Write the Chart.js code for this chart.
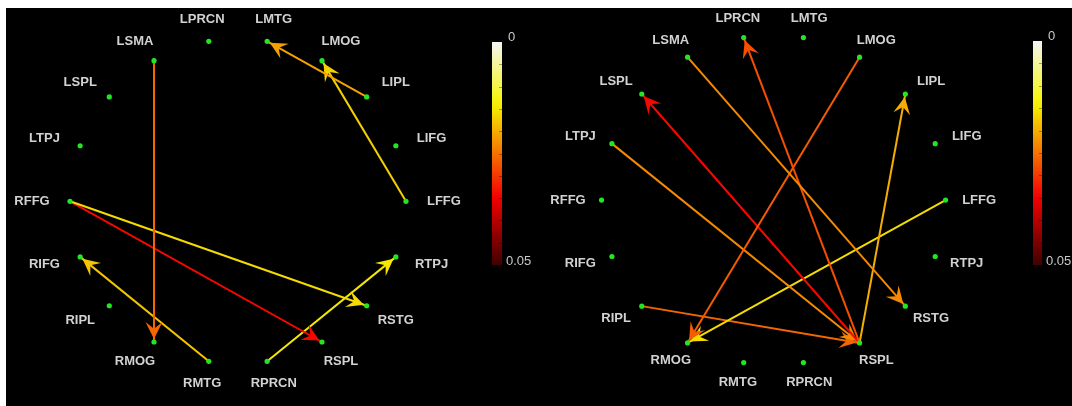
<!DOCTYPE html>
<html>
<head>
<meta charset="utf-8">
<script src="https://cdn.jsdelivr.net/npm/chart.js@4/dist/chart.umd.min.js"></script>
<style>
  html, body { margin: 0; padding: 0; background: #fff; }
  #stage { position: absolute; left: 6px; top: 8px; width: 1066px; height: 398px; background: #000; overflow: hidden; }
  canvas { position: absolute; top: 0; }
  #left { left: 0; }
  #right { left: 530px; }
</style>
</head>
<body>
<div id="stage">
  <canvas id="left" width="530" height="398"></canvas>
  <canvas id="right" width="536" height="398"></canvas>
</div>
<script>
// regions around the circle, counter-clockwise from the right
const regions = ['LFFG', 'LIFG', 'LIPL', 'LMOG', 'LMTG', 'LPRCN', 'LSMA', 'LSPL', 'LTPJ',
                 'RFFG', 'RIFG', 'RIPL', 'RMOG', 'RMTG', 'RPRCN', 'RSPL', 'RSTG', 'RTPJ'];

// left panel connections (source -> target) and p values
const leftFrom = ['LSMA', 'LIPL', 'LFFG', 'RFFG', 'RFFG', 'RMTG', 'RPRCN'];
const leftTo   = ['RMOG', 'LMTG', 'LMOG', 'RSTG', 'RSPL', 'RIFG', 'RTPJ'];
const leftP    = [0.026, 0.021, 0.017, 0.016, 0.034, 0.018, 0.015];

// right panel connections
const rightFrom = ['LSMA', 'RSPL', 'LMOG', 'RSPL', 'RSPL', 'LTPJ', 'LFFG', 'RIPL'];
const rightTo   = ['RSTG', 'LPRCN', 'RMOG', 'LSPL', 'LIPL', 'RSPL', 'RMOG', 'RSPL'];
const rightP    = [0.023, 0.028, 0.027, 0.034, 0.020, 0.023, 0.016, 0.026];

const cbarTicks = ['0', '0.05'];
const pMax = 0.05;

function angleOf(name) {
  return regions.indexOf(name) * 2 * Math.PI / regions.length;
}

function nodeXY(name) {
  const a = angleOf(name);
  return { x: Math.cos(a), y: Math.sin(a) };
}

// reversed "hot" colour map, 0 = white, pMax = dark red
function hot(p) {
  const s = 1 - 0.9 * Math.min(1, p / pMax);
  const c = v => Math.round(255 * 0.96 * Math.max(0, Math.min(1, v)));
  return 'rgb(' + c(s / 0.375) + ',' + c((s - 0.375) / 0.375) + ',' + c((s - 0.75) / 0.25) + ')';
}

const arrowPlugin = {
  id: 'arrows',
  afterDatasetDraw(chart, args) {
    const ds = chart.data.datasets[args.index];
    if (!ds.edge) return;
    const a = args.meta.data[0], b = args.meta.data[1];
    let dx = b.x - a.x, dy = b.y - a.y;
    const len = Math.hypot(dx, dy);
    dx /= len; dy /= len;
    const nx = -dy, ny = dx;
    const L = 17, W = 8.5;
    const tx = b.x - dx * 3, ty = b.y - dy * 3;
    const ctx = chart.ctx;
    ctx.save();
    ctx.fillStyle = ds.borderColor;
    ctx.beginPath();
    ctx.moveTo(tx, ty);
    ctx.lineTo(tx - dx * L + nx * W, ty - dy * L + ny * W);
    ctx.lineTo(tx - dx * L * 0.6, ty - dy * L * 0.6);
    ctx.lineTo(tx - dx * L - nx * W, ty - dy * L - ny * W);
    ctx.closePath();
    ctx.fill();
    ctx.restore();
  }
};

const panelPlugin = {
  id: 'panel',
  afterDraw(chart, args, opts) {
    const ctx = chart.ctx;
    const sx = chart.scales.x, sy = chart.scales.y;
    ctx.save();
    // region names
    ctx.font = 'bold 13px "Liberation Sans", Arial, sans-serif';
    ctx.fillStyle = '#d2d2d2';
    ctx.textAlign = 'center';
    ctx.textBaseline = 'middle';
    regions.forEach(name => {
      const a = angleOf(name);
      ctx.fillText(name, sx.getPixelForValue(opts.labelRx * Math.cos(a)),
                         sy.getPixelForValue(opts.labelRy * Math.sin(a)));
    });
    // colour bar
    const cb = opts.cbar;
    const grad = ctx.createLinearGradient(0, cb.top, 0, cb.bottom);
    for (let i = 0; i <= 20; i++) grad.addColorStop(i / 20, hot(pMax * i / 20));
    ctx.fillStyle = grad;
    ctx.fillRect(cb.x, cb.top, cb.w, cb.bottom - cb.top);
    ctx.strokeStyle = 'rgba(0,0,0,0.35)';
    ctx.lineWidth = 1;
    for (let i = 1; i < 10; i++) {
      const y = Math.round(cb.top + (cb.bottom - cb.top) * i / 10) + 0.5;
      ctx.beginPath();
      ctx.moveTo(cb.x + cb.w - 3, y);
      ctx.lineTo(cb.x + cb.w, y);
      ctx.stroke();
    }
    ctx.font = '13px "Liberation Sans", Arial, sans-serif';
    ctx.fillStyle = '#c8c8c8';
    ctx.textAlign = 'left';
    ctx.fillText(cbarTicks[0], cb.x + cb.w + 6, cb.top - 5);
    ctx.fillText(cbarTicks[1], cb.x + cb.w + 4, cb.bottom - 4);
    ctx.restore();
  }
};

function makePanel(id, from, to, pvals, geo) {
  const datasets = from.map((f, i) => ({
    data: [nodeXY(f), nodeXY(to[i])],
    showLine: true,
    borderColor: hot(pvals[i]),
    borderWidth: 2,
    pointRadius: 0,
    edge: true,
    order: 1
  }));
  datasets.push({
    data: regions.map(nodeXY),
    pointRadius: 2.6,
    pointBackgroundColor: '#22e622',
    pointBorderWidth: 0,
    order: 0
  });
  return new Chart(id, {
    type: 'scatter',
    data: { datasets },
    options: {
      responsive: false,
      animation: false,
      layout: { padding: 0, autoPadding: false },
      scales: {
        x: { display: false, min: geo.xMin, max: geo.xMax },
        y: { display: false, min: geo.yMin, max: geo.yMax }
      },
      plugins: {
        legend: { display: false },
        tooltip: { enabled: false },
        panel: geo
      }
    },
    plugins: [arrowPlugin, panelPlugin]
  });
}

makePanel('left', leftFrom, leftTo, leftP, {
  xMin: -1.381, xMax: 1.774, yMin: -1.26, yMax: 1.19,
  labelRx: 1.226, labelRy: 1.14,
  cbar: { x: 486, w: 10, top: 34, bottom: 257 }
});

makePanel('right', rightFrom, rightTo, rightP, {
  xMin: -1.381, xMax: 1.735, yMin: -1.248, yMax: 1.164,
  labelRx: 1.195, labelRy: 1.12,
  cbar: { x: 497, w: 9, top: 33, bottom: 257 }
});
</script>
</body>
</html>
